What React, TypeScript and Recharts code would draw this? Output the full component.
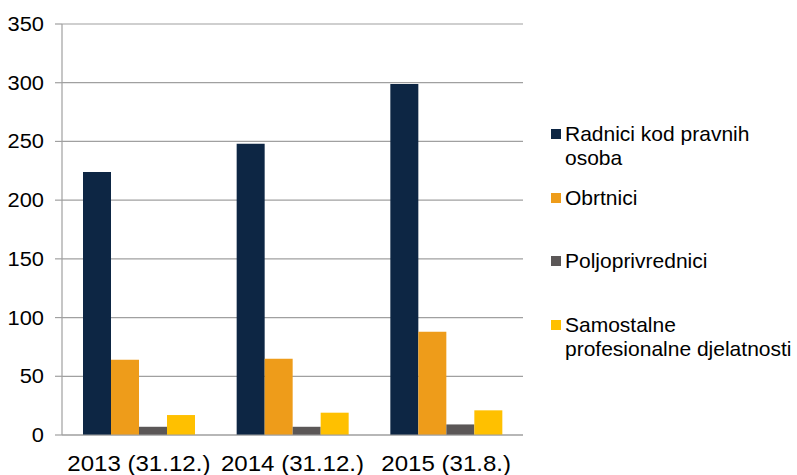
import React from 'react';
import { BarChart, Bar, XAxis, YAxis, CartesianGrid, Legend } from 'recharts';

const categories = ['2013 (31.12.)', '2014 (31.12.)', '2015 (31.8.)'];
const radnici = [224, 248, 299];
const obrtnici = [64, 65, 88];
const poljoprivrednici = [7, 7, 9];
const samostalne = [17, 19, 21];
const yTicks = [0, 50, 100, 150, 200, 250, 300, 350];

const seriesNames = [
  'Radnici kod pravnih osoba',
  'Obrtnici',
  'Poljoprivrednici',
  'Samostalne profesionalne djelatnosti',
];
const seriesKeys = ['radnici', 'obrtnici', 'poljo', 'samostalne'];
const seriesColors = ['#0d2644', '#ee9c1a', '#5b5757', '#ffc000'];

const data = categories.map((c, i) => ({
  name: c,
  radnici: radnici[i],
  obrtnici: obrtnici[i],
  poljo: poljoprivrednici[i],
  samostalne: samostalne[i],
}));

const FONT = '"Liberation Sans", Arial, sans-serif';
const GRID = '#a0a0a0';

const YTick = (props: any) => {
  const { x, y, payload } = props;
  return (
    <text
      transform={`translate(${x},${y}) scale(1.12,1)`}
      textAnchor="end"
      dy={7}
      fontSize={19.5}
      fontFamily={FONT}
      fill="#000"
    >
      {payload.value}
    </text>
  );
};

const XTick = (props: any) => {
  const { x, y, payload } = props;
  return (
    <text
      transform={`translate(${x},${y}) scale(1.12,1)`}
      textAnchor="middle"
      dy={36.5}
      fontSize={21.5}
      fontFamily={FONT}
      fill="#000"
    >
      {payload.value}
    </text>
  );
};

const LegendContent = () => (
  <div style={{ position: 'relative', width: 260, fontFamily: FONT, fontSize: 21, color: '#000' }}>
    {seriesNames.map((n, i) => (
      <div
        key={n}
        style={{ position: 'absolute', left: 0, top: i * 63.7, width: 260, lineHeight: '23.5px' }}
      >
        <span
          style={{
            position: 'absolute',
            left: 0,
            top: 7,
            width: 10,
            height: 10,
            background: seriesColors[i],
          }}
        />
        <div style={{ marginLeft: 14, width: 240 }}>{n}</div>
      </div>
    ))}
  </div>
);

export default function App() {
  return (
    <div style={{ position: 'absolute', left: 0, top: 0, background: '#fff' }}>
      <BarChart
        width={797}
        height={475}
        data={data}
        margin={{ top: 24, right: 274, bottom: 0, left: 0 }}
        barGap={0}
      >
        <CartesianGrid vertical={false} stroke={GRID} strokeWidth={1.2} />
        <XAxis
          xAxisId="sep"
          type="number"
          domain={[0, 3]}
          ticks={[0, 1, 2, 3]}
          tick={false}
          axisLine={false}
          tickLine={{ stroke: GRID, strokeWidth: 1.2 }}
          tickSize={7}
          height={0}
          allowDataOverflow
        />
        <XAxis
          dataKey="name"
          tick={<XTick />}
          tickLine={false}
          tickSize={0}
          tickMargin={0}
          axisLine={{ stroke: GRID, strokeWidth: 1.2 }}
          height={40}
          interval={0}
        />
        <YAxis
          domain={[0, 350]}
          ticks={yTicks}
          width={62}
          tick={<YTick />}
          tickSize={7}
          tickMargin={11}
          tickLine={{ stroke: GRID, strokeWidth: 1.2 }}
          axisLine={{ stroke: GRID, strokeWidth: 1.2 }}
          interval={0}
        />
        <Legend
          layout="vertical"
          align="center"
          verticalAlign="middle"
          content={<LegendContent />}
          wrapperStyle={{ left: 551, top: 122, width: 260, height: 250 }}
        />
        {seriesKeys.map((k, i) => (
          <Bar
            key={k}
            dataKey={k}
            name={seriesNames[i]}
            fill={seriesColors[i]}
            barSize={28}
            isAnimationActive={false}
          />
        ))}
      </BarChart>
    </div>
  );
}
